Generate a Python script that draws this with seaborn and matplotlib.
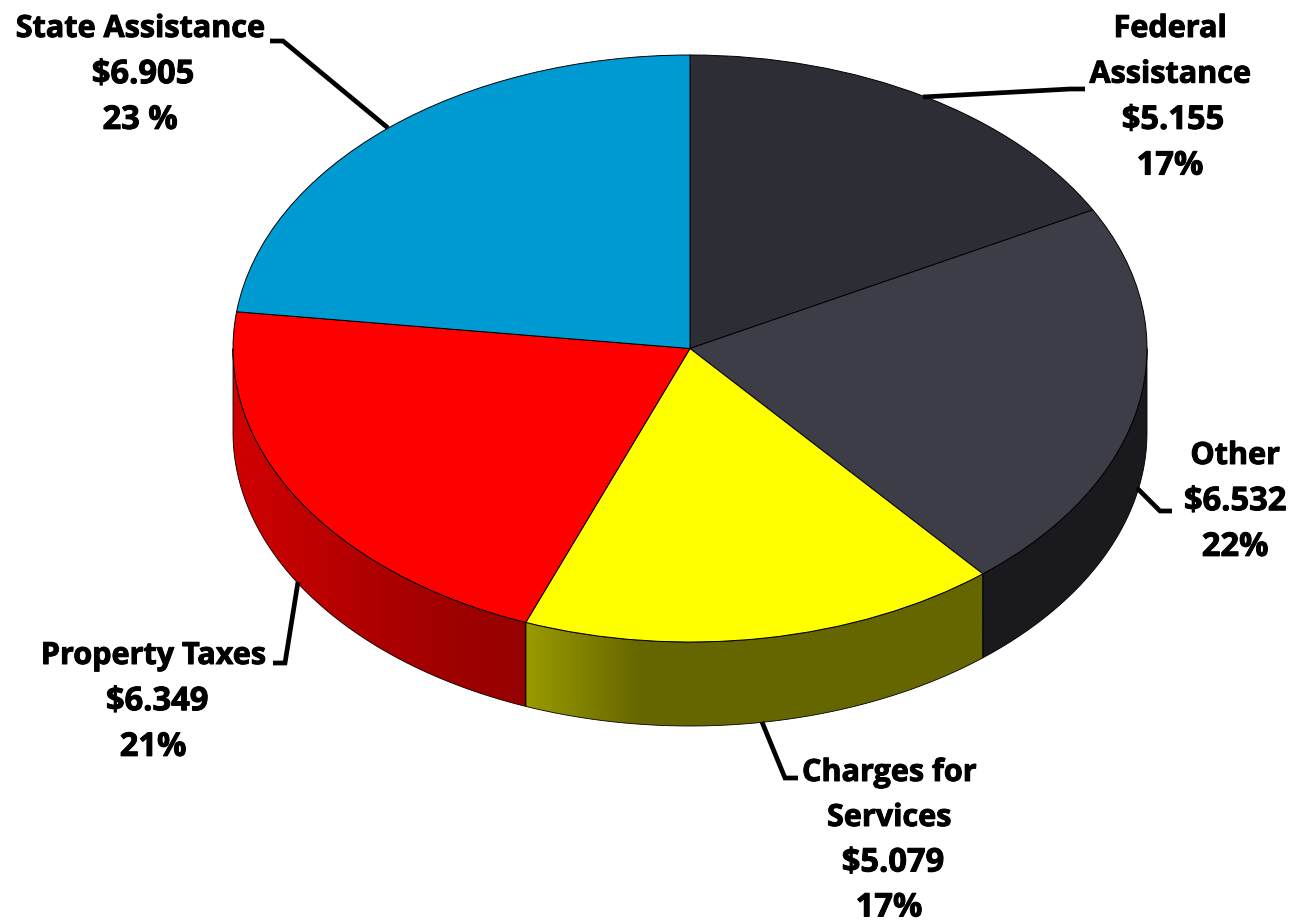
import numpy as np
import matplotlib
matplotlib.use("Agg")
import matplotlib.pyplot as plt
import matplotlib.patheffects as pe
from matplotlib.colors import LinearSegmentedColormap
from matplotlib.patches import Polygon
import seaborn as sns

# Chart data, clockwise from the top
categories = ["Federal Assistance", "Other", "Charges for Services", "Property Taxes", "State Assistance"]
values = [5.155, 6.532, 5.079, 6.349, 6.905]
percent_labels = ["17%", "22%", "17%", "21%", "23 %"]

top_colors = ["#2d2d35", "#3d3d47", "#ffff00", "#ff0000", "#009ad3"]
wall_colors = [
    ["#1a1a1e", "#1a1a1e"],
    ["#1a1a1e", "#1a1a1e"],
    ["#9a9a00", "#666600", "#666600", "#666600", "#666600"],
    ["#d00000", "#bf0000", "#ad0000", "#9f0000", "#960000"],
    ["#009ad3", "#009ad3"],
]

# Pixel geometry of the squashed disc
W, H = 1299, 924
CX, CY = 690, 348.5
RX, RY = 457, 293.5
DEPTH = 84 / RY

# label lines and anchor positions in pixels
label_lines = [
    ["Federal", "Assistance"],
    ["Other"],
    ["Charges for", "Services"],
    ["Property Taxes"],
    ["State Assistance"],
]
label_pos = [(1170, 29), (1235, 456), (889, 773), (153, 656), (140, 29)]
line_steps = [45.7, 45.7, 45, 45.7, 45.7]
money_shift = [3, 0, 4, 4, 3]
leaders = [
    [(923, 97), (1070, 89), (1085, 89)],
    [(1137, 488), (1160, 511), (1172, 511)],
    [(762, 722), (785, 778), (798, 778)],
    [(298, 582), (285, 663), (273, 663)],
    [(388, 128), (283, 41), (270, 41)],
]

sns.set_theme(style="white")
plt.rcParams["font.family"] = ["Open Sans", "DejaVu Sans"]

fig = plt.figure(figsize=(W / 100, H / 100), dpi=100)
ax = fig.add_axes([0, 0, 1, 1])

# top face
ax.pie(values, colors=sns.color_palette(top_colors), startangle=90, counterclock=False,
       radius=1, wedgeprops={"edgecolor": "black", "linewidth": 0.7, "zorder": 3})
ax.set_aspect("auto")
xlim = (-CX / RX, (W - CX) / RX)
ylim = ((CY - H) / RY, CY / RY)

# side wall, one piece per slice that faces the viewer
fracs = np.array(values) / sum(values)
edges = np.pi / 2 - 2 * np.pi * np.concatenate([[0], np.cumsum(fracs)])
for i in range(len(values)):
    start, end = edges[i], edges[i + 1]
    start = min(start, 0) if start > -np.pi else start
    end = max(end, -np.pi)
    if start <= end:
        continue
    t = np.linspace(start, end, 120)
    top = np.column_stack([np.cos(t), np.sin(t)])
    bottom = (top - [0, DEPTH])[::-1]
    wall = Polygon(np.vstack([top, bottom]), closed=True, facecolor="none",
                   edgecolor="black", linewidth=0.6, zorder=2)
    ax.add_patch(wall)
    cmap = LinearSegmentedColormap.from_list("wall", wall_colors[i])
    img = ax.imshow(np.linspace(0, 1, 256).reshape(1, -1), cmap=cmap, aspect="auto", zorder=1,
                    extent=(top[:, 0].min(), top[:, 0].max(), ylim[0], ylim[1]))
    img.set_clip_path(wall)
ax.set_xlim(xlim)
ax.set_ylim(ylim)
ax.set_aspect("auto")

# overlay in pixel coordinates for the labels
over = fig.add_axes([0, 0, 1, 1], facecolor="none")
over.set_xlim(0, W)
over.set_ylim(H, 0)
over.axis("off")

heavy = [pe.withStroke(linewidth=0.7, foreground="black")]
for i, name in enumerate(categories):
    pts = np.array(leaders[i])
    over.plot(pts[:, 0], pts[:, 1], color="black", linewidth=3.4, solid_joinstyle="miter",
              solid_capstyle="butt")
    x, y = label_pos[i]
    step = line_steps[i]
    lines = label_lines[i]
    for j, line in enumerate(lines):
        over.text(x, y + j * step, line, ha="center", va="center", fontsize=22,
                  fontweight="bold", color="black", path_effects=heavy)
    n = len(lines)
    over.text(x + money_shift[i], y + n * step, f"${values[i]:.3f}", ha="center", va="center",
              fontsize=23.5, fontweight="bold", color="black", path_effects=heavy)
    over.text(x, y + (n + 1) * step, percent_labels[i], ha="center", va="center",
              fontsize=23.5, fontweight="bold", color="black", path_effects=heavy)

fig.savefig("out.png", dpi=100, facecolor="white")
